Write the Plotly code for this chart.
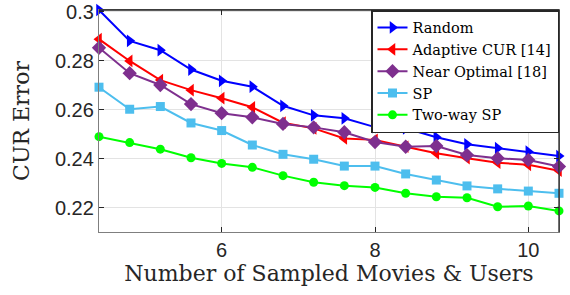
import plotly.graph_objects as go

x_vals = [4.4, 4.8, 5.2, 5.6, 6.0, 6.4, 6.8, 7.2, 7.6, 8.0, 8.4, 8.8, 9.2, 9.6, 10.0, 10.4]

random_err = [0.3008, 0.2882, 0.2844, 0.2765, 0.2719, 0.2695, 0.2617, 0.2578, 0.2566, 0.2530,
              0.2525, 0.2489, 0.2460, 0.2444, 0.2430, 0.2412]
adaptive_err = [0.2889, 0.2800, 0.2722, 0.2681, 0.2648, 0.2611, 0.2548, 0.2525, 0.2484, 0.2478,
                0.2450, 0.2423, 0.2403, 0.2385, 0.2376, 0.2352]
nearopt_err = [0.2854, 0.2750, 0.2702, 0.2624, 0.2587, 0.2570, 0.2543, 0.2529, 0.2509, 0.2469,
               0.2450, 0.2453, 0.2416, 0.2403, 0.2396, 0.2369]
sp_err = [0.2693, 0.2603, 0.2614, 0.2547, 0.2516, 0.2457, 0.2419, 0.2399, 0.2371, 0.2371,
          0.2339, 0.2314, 0.2290, 0.2278, 0.2269, 0.2260]
twoway_err = [0.2491, 0.2467, 0.2440, 0.2405, 0.2382, 0.2366, 0.2332, 0.2305, 0.2291, 0.2284,
              0.2260, 0.2246, 0.2242, 0.2205, 0.2208, 0.2188]

series = [
    ("Random", random_err, "#0000FF", "triangle-right", 11),
    ("Adaptive CUR [14]", adaptive_err, "#FF0000", "triangle-left", 11),
    ("Near Optimal [18]", nearopt_err, "#7E2F8E", "diamond", 11),
    ("SP", sp_err, "#4DBEEE", "square", 9),
    ("Two-way SP", twoway_err, "#00FF00", "circle", 9),
]

x_ticks = [6, 8, 10]
y_ticks = [0.22, 0.24, 0.26, 0.28, 0.3]
y_tick_text = ["0.22", "0.24", "0.26", "0.28", "0.3"]

SERIF = "DejaVu Serif"
SANS = "Liberation Sans"

fig = go.Figure()
for name, vals, color, sym, size in series:
    fig.add_trace(go.Scatter(
        x=x_vals, y=vals, name=name, mode="lines+markers",
        line=dict(color=color, width=2),
        marker=dict(symbol=sym, size=size, color=color, line=dict(width=0)),
        cliponaxis=False,
    ))

axis_common = dict(
    showgrid=True, gridcolor="#E3E3E3", gridwidth=1,
    showline=True, linecolor="#7F7F7F", linewidth=1.3, mirror="ticks",
    ticks="inside", ticklen=5, tickcolor="#262626", tickwidth=1,
    tickfont=dict(family=SANS, size=20, color="#262626"),
    zeroline=False, automargin=False,
)

fig.update_layout(
    width=570, height=295,
    margin=dict(l=99, r=11, t=10, b=63),
    font=dict(family=SERIF, size=14.5, color="#000000"),
    plot_bgcolor="white", paper_bgcolor="white",
    xaxis=dict(range=[4.4, 10.4], tickvals=x_ticks, **axis_common,
               title=dict(text="Number of Sampled Movies & Users", standoff=4,
                          font=dict(family=SERIF, size=22, color="#262626"))),
    yaxis=dict(range=[0.2102, 0.3008], tickvals=y_ticks, ticktext=y_tick_text, **axis_common,
               title=dict(text="CUR Error", standoff=19,
                          font=dict(family=SERIF, size=22, color="#262626"))),
    legend=dict(x=1, xanchor="right", y=1, yanchor="top",
                bgcolor="white", bordercolor="#262626", borderwidth=1.5,
                font=dict(family=SERIF, size=14.5, color="#000000"),
                tracegroupgap=0, itemwidth=30),
    showlegend=True,
)

# dark top/right box edges
fig.add_shape(type="line", xref="paper", yref="paper", x0=0, x1=1, y0=1, y1=1,
              line=dict(color="#262626", width=1.3))
fig.add_shape(type="line", xref="paper", yref="paper", x0=1, x1=1, y0=0, y1=1,
              line=dict(color="#262626", width=1.3))

fig.write_html("out.html", config={"displayModeBar": False},
               post_script="document.body.style.margin='0';document.body.style.overflow='hidden';")
